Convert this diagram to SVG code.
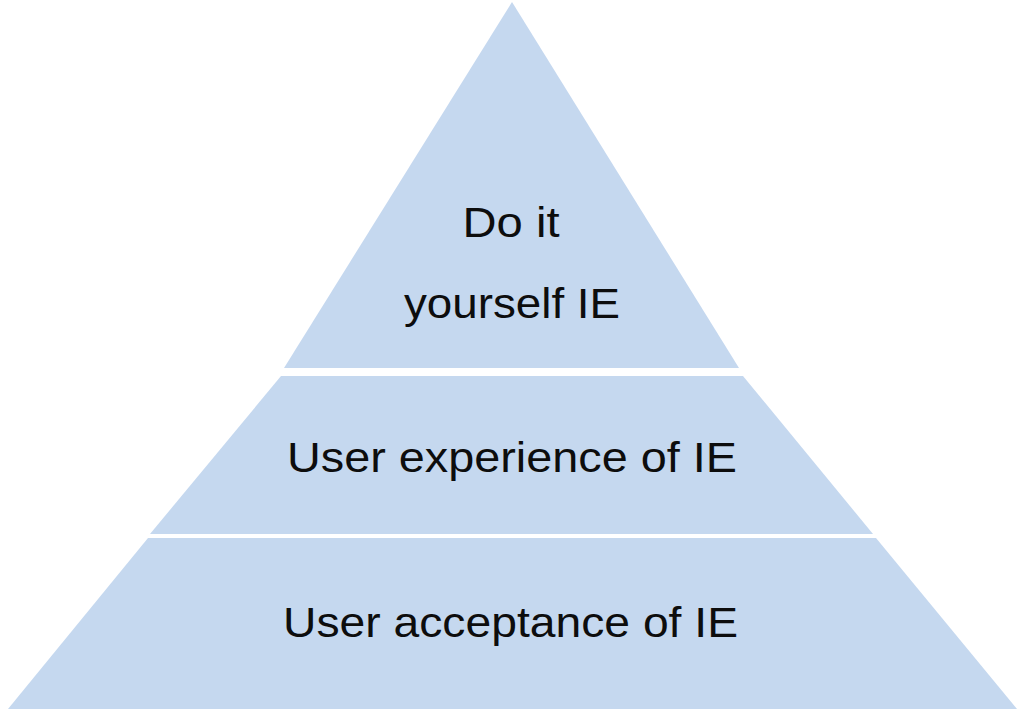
<svg xmlns="http://www.w3.org/2000/svg" width="1024" height="725" viewBox="0 0 1024 725">
<style>
.tier{fill:#C5D8EF;}
.lbl{font-family:"Liberation Sans",Arial,sans-serif;font-size:43px;fill:#0d0d0d;text-anchor:middle;}
</style>
<rect width="1024" height="725" fill="#ffffff"/>
<g id="tier-top">
<polygon class="tier" points="512,2 739,368 284,368"/>
<text class="lbl" x="511" y="237" textLength="97" lengthAdjust="spacingAndGlyphs">Do it</text>
<text class="lbl" x="512" y="318" textLength="216" lengthAdjust="spacingAndGlyphs">yourself IE</text>
</g>
<g id="tier-middle">
<polygon class="tier" points="281,376 743,376 873,534 150,534"/>
<text class="lbl" x="512" y="472" textLength="450" lengthAdjust="spacingAndGlyphs">User experience of IE</text>
</g>
<g id="tier-bottom">
<polygon class="tier" points="148,538 876,538 1017,709 8,709"/>
<text class="lbl" x="510.5" y="637" textLength="455" lengthAdjust="spacingAndGlyphs">User acceptance of IE</text>
</g>
<g id="connectors"/>
</svg>
